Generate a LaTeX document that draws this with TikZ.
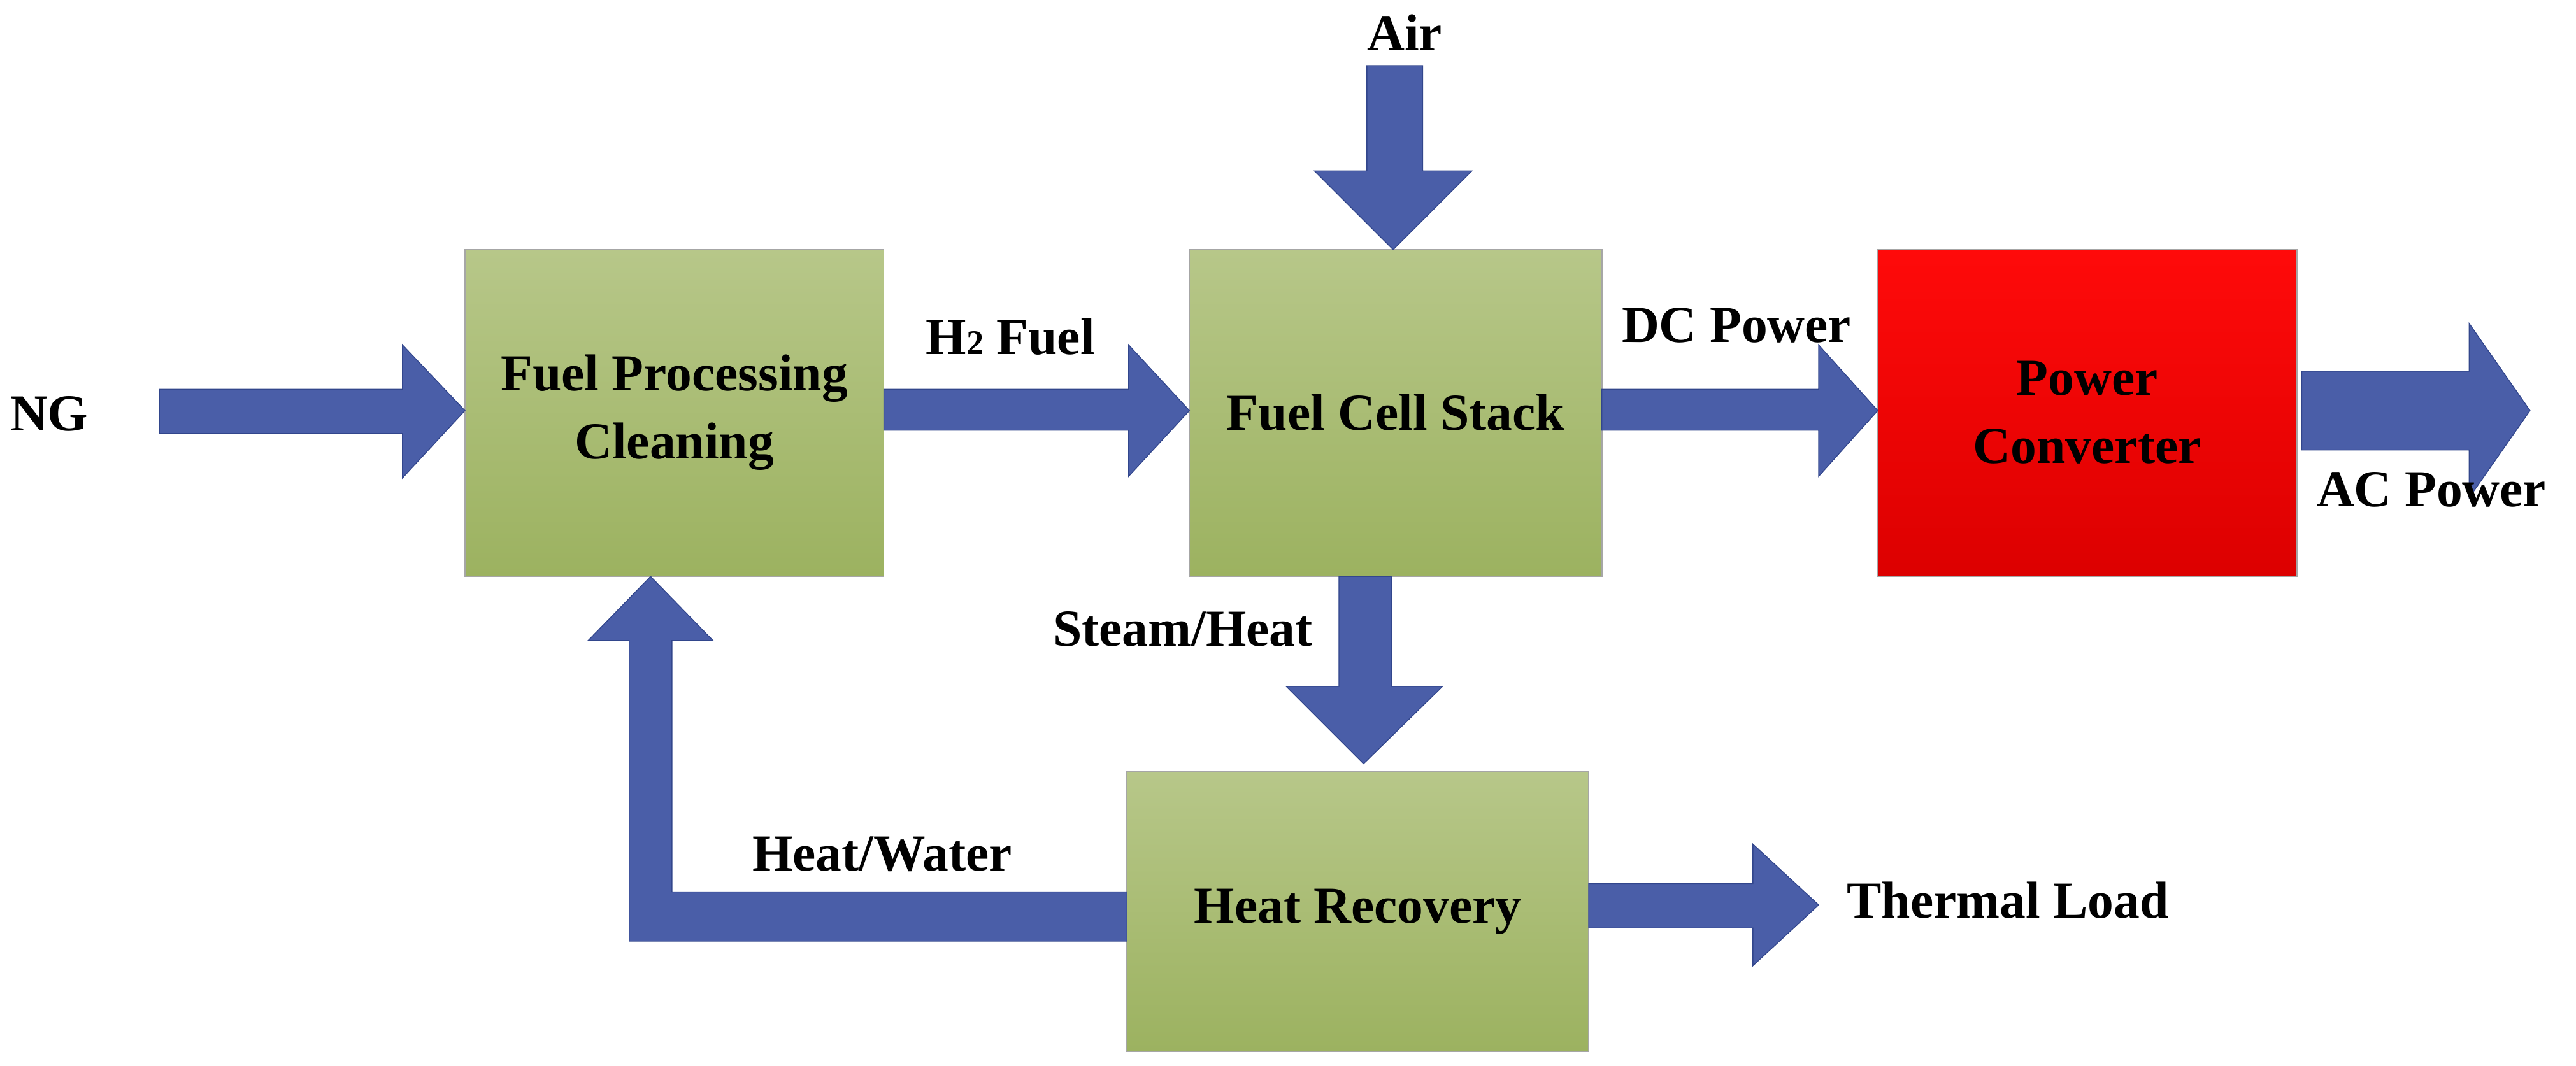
\documentclass[tikz,border=0pt]{standalone}
\usepackage{fontspec}
\setmainfont{Liberation Serif}
\begin{document}
\begin{tikzpicture}[x=0.1cm,y=-0.1cm,
  gbox/.style={draw=gray!70,line width=2pt,top color=green!25!olive!35!white,bottom color=green!30!olive!60!white,
    shading angle=0},
  arr/.style={fill=blue!55!black!65!white,draw=blue!40!black,line width=1.5pt},
  lbl/.style={font=\fontsize{90}{118}\selectfont\bfseries,align=center}]
\useasboundingbox (0,0) rectangle (1568,649);
% boxes
\path[gbox,top color={rgb,255:red,183;green,199;blue,137},bottom color={rgb,255:red,156;green,178;blue,96}]
  (283,152) rectangle (538,351);
\path[gbox,top color={rgb,255:red,183;green,199;blue,137},bottom color={rgb,255:red,156;green,178;blue,96}]
  (724,152) rectangle (975,351);
\path[gbox,top color={rgb,255:red,183;green,199;blue,137},bottom color={rgb,255:red,156;green,178;blue,96}]
  (686,470) rectangle (967,640);
\path[draw=gray!70,line width=2pt,top color={rgb,255:red,255;green,10;blue,10},bottom color={rgb,255:red,220;green,0;blue,0}]
  (1143,152) rectangle (1398,351);
\node[lbl] (fp) at (410.5,251) {Fuel Processing\\Cleaning};
\node[lbl] (fc) at (849.5,251) {Fuel Cell Stack};
\node[lbl] (pc) at (1270.5,251) {Power\\Converter};
\node[lbl] (hr) at (826.5,555) {Heat Recovery};
% arrows
\colorlet{ab}{blue}
\tikzset{arr/.style={fill={rgb,255:red,74;green,94;blue,168},draw={rgb,255:red,50;green,70;blue,140},line width=1.5pt}}
\path[arr] (97,237)--(245,237)--(245,210)--(283,250)--(245,291)--(245,264)--(97,264)--cycle;
\path[arr] (538,237)--(687,237)--(687,210)--(724,250)--(687,290)--(687,262)--(538,262)--cycle;
\path[arr] (975,237)--(1107,237)--(1107,210)--(1143,250)--(1107,290)--(1107,262)--(975,262)--cycle;
\path[arr] (1401,226)--(1503,226)--(1503,197)--(1540,250)--(1503,303)--(1503,274)--(1401,274)--cycle;
\path[arr] (832,40)--(866,40)--(866,104)--(896,104)--(848,152)--(800,104)--(832,104)--cycle;
\path[arr] (815,351)--(847,351)--(847,418)--(878,418)--(830,465)--(783,418)--(815,418)--cycle;
\path[arr] (967,538)--(1067,538)--(1067,514)--(1107,551)--(1067,588)--(1067,565)--(967,565)--cycle;
\path[arr] (686,543)--(686,573)--(383,573)--(383,390)--(358,390)--(396,351)--(434,390)--(409,390)--(409,543)--cycle;
% labels
\node[lbl,anchor=west] (ng) at (5,252) {NG};
\node[lbl] (h2) at (615,205) {H{\fontsize{60}{60}\selectfont 2} Fuel};
\node[lbl] (dc) at (1057,198) {DC Power};
\node[lbl] (ac) at (1480,298) {AC Power};
\node[lbl] (air) at (855,20) {Air};
\node[lbl] (st) at (720,383) {Steam/Heat};
\node[lbl] (hw) at (537,520) {Heat/Water};
\node[lbl,anchor=west] (tl) at (1123,548) {Thermal Load};
\end{tikzpicture}
\end{document}
